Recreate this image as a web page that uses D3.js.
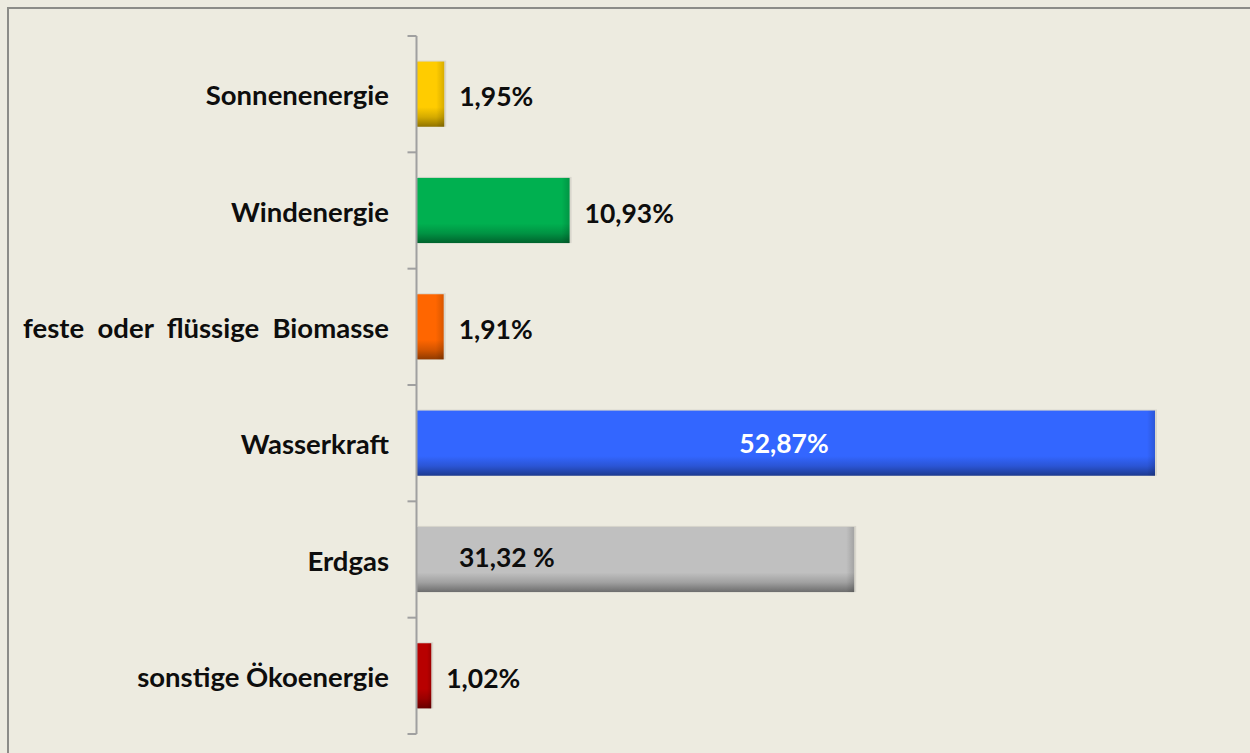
<!DOCTYPE html>
<html><head><meta charset="utf-8">
<script src="https://cdn.jsdelivr.net/npm/d3@7"></script>
<style>
html,body{margin:0;padding:0;background:#EDEBE0;}
svg{display:block;}
</style></head>
<body>
<svg id="chart" width="1250" height="753"></svg>
<script>
const categories = ["Sonnenenergie","Windenergie","feste  oder  flüssige  Biomasse","Wasserkraft","Erdgas","sonstige Ökoenergie"];
const values = [1.95, 10.93, 1.91, 52.87, 31.32, 1.02];
const valueLabels = ["1,95%","10,93%","1,91%","52,87%","31,32 %","1,02%"];
const colors = ["#FFCC00","#00B050","#FF6600","#3366FF","#C0C0C0","#B80000"];

(function(){
const svg = d3.select("#chart");
const W = 1250, H = 753;
svg.append("rect").attr("width",W).attr("height",H).attr("fill","#EDEBE0");
svg.append("path").attr("d","M8,753 V8 H1250").attr("fill","none").attr("stroke","#8C8C88").attr("stroke-width",2);

const x0 = 416.5, yTop = 36, yBottom = 734;
const x = d3.scaleLinear().domain([0, 52.87]).range([x0+0.5, 1155]);
const y = d3.scaleBand().domain(categories).range([yTop,yBottom]).paddingInner(0.44).paddingOuter(0.22);

const defs = svg.append("defs");
colors.forEach((c,i)=>{
  const g = defs.append("linearGradient").attr("id","g"+i).attr("x1",0).attr("y1",0).attr("x2",0).attr("y2",1);
  const dark = d3.color(c).darker(1.6);
  const mid = d3.color(c).darker(0.5);
  g.append("stop").attr("offset","0%").attr("stop-color",c);
  g.append("stop").attr("offset","70%").attr("stop-color",c);
  g.append("stop").attr("offset","85%").attr("stop-color",mid);
  g.append("stop").attr("offset","100%").attr("stop-color",dark);
  const h = defs.append("linearGradient").attr("id","h"+i).attr("x1",0).attr("y1",0).attr("x2",1).attr("y2",0);
  h.append("stop").attr("offset","0%").attr("stop-color","#000").attr("stop-opacity",0);
  h.append("stop").attr("offset","100%").attr("stop-color","#000").attr("stop-opacity",0.15);
});

const bars = svg.append("g");
categories.forEach((cat,i)=>{
  const bx = x(0), bw = x(values[i]) - x(0), by = y(cat), bh = y.bandwidth();
  bars.append("rect").attr("x",bx+1).attr("y",by-1).attr("width",bw+1).attr("height",bh+1).attr("fill","#d8d6cc");
  bars.append("rect").attr("x",bx).attr("y",by).attr("width",bw).attr("height",bh).attr("fill","url(#g"+i+")");
  const sw = Math.min(8, bw*0.3);
  bars.append("rect").attr("x",bx+bw-sw).attr("y",by).attr("width",sw).attr("height",bh).attr("fill","url(#h"+i+")");
});

const axis = d3.axisLeft(y).tickSize(0).tickFormat("");
const ag = svg.append("g").attr("transform",`translate(${x0},0)`).call(axis);
ag.select(".domain").remove();
ag.append("line").attr("x1",0).attr("x2",0).attr("y1",yTop).attr("y2",yBottom).attr("stroke","#A0A0A0").attr("stroke-width",2);
const step = (yBottom-yTop)/categories.length;
d3.range(categories.length+1).forEach(k=>{
  ag.append("line").attr("x1",-9).attr("x2",0).attr("y1",yTop+k*step).attr("y2",yTop+k*step).attr("stroke","#A0A0A0").attr("stroke-width",2);
});

const font = "Lato, 'Open Sans', sans-serif";
svg.append("g").selectAll("text").data(categories).join("text")
  .attr("x",389).attr("y",d=>y(d)+y.bandwidth()/2+11)
  .attr("text-anchor","end")
  .attr("font-family",font).attr("font-weight","bold").attr("font-size",27.5)
  .attr("fill","#0d0d0d").style("white-space","pre").text(d=>d);

svg.append("g").selectAll("text").data(categories).join("text")
  .attr("x",(d,i)=> i===3 ? (x(0)+x(values[i]))/2 - 2 : (i===4 ? x(0)+42 : x(values[i])+15))
  .attr("y",(d,i)=>y(d)+y.bandwidth()/2 + (i===4 ? 7 : (i===3 ? 9.5 : 12)))
  .attr("text-anchor",(d,i)=> i===3 ? "middle" : "start")
  .attr("font-family",font).attr("font-weight","bold").attr("font-size",26.5)
  .attr("fill",(d,i)=> i===3 ? "#ffffff" : "#0d0d0d")
  .text((d,i)=>valueLabels[i]);
})();
</script>
</body></html>
